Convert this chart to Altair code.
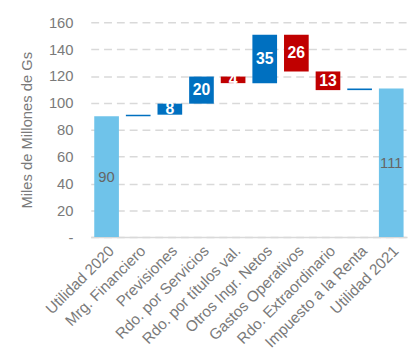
import altair as alt
import pandas as pd

categories = ["Utilidad 2020", "Mrg. Financiero", "Previsiones", "Rdo. por Servicios",
              "Rdo. por títulos val.", "Otros Ingr. Netos", "Gastos Operativos",
              "Rdo. Extraordinario", "Impuesto a la Renta", "Utilidad 2021"]
kinds = ["total", "step", "step", "step", "step", "step", "step", "step", "step", "total"]
values = [90, 1.2, 8.2, 20.2, -4.9, 36.0, -27.3, -13.9, 1.2, 110.7]
labels = ["90", "", "8", "20", "4", "35", "26", "13", "", "111"]
yticks = [0, 20, 40, 60, 80, 100, 120, 140, 160]

rows = []
run = 0.0
for cat, kind, v, lab in zip(categories, kinds, values, labels):
    if kind == "total":
        start, end = 0.0, v
        run = v
        typ = "total"
    else:
        start, end = run, run + v
        run = end
        typ = "up" if v >= 0 else "down"
    rows.append({"cat": cat, "start": start, "end": end, "mid": (start + end) / 2,
                 "type": typ, "label": lab})
df = pd.DataFrame(rows)

FONT = "Liberation Sans"
GRAY = "#7a7a7a"

xaxis = alt.Axis(labelAngle=-45, labelAlign="right", labelBaseline="top",
                 labelFont=FONT, labelFontSize=15.5, labelColor=GRAY,
                 ticks=False, domain=True, domainColor="#d9d9d9", domainWidth=1.5,
                 labelPadding=6, grid=False, labelOverlap=False)
xscale = alt.Scale(paddingInner=0.22, paddingOuter=0.11)
yaxis = alt.Axis(values=yticks, labelOverlap=False,
                 labelExpr="datum.value == 0 ? '-' : datum.label",
                 labelFont=FONT, labelFontSize=15, labelColor=GRAY,
                 titleFont=FONT, titleFontSize=15, titleColor=GRAY,
                 titleFontWeight="normal", titlePadding=14,
                 ticks=False, domain=False, labelPadding=18,
                 gridColor="#d9d9d9", gridDash=[8, 5], gridWidth=1.5)
yscale = alt.Scale(domain=[0, 160], nice=False)
YTITLE = "Miles de Millones de Gs"


def X():
    return alt.X("cat:N", sort=categories, title=None, scale=xscale, axis=xaxis)


bars = alt.Chart(df).mark_bar().encode(
    x=X(),
    y=alt.Y("start:Q", scale=yscale, title=YTITLE, axis=yaxis),
    y2="end:Q",
    color=alt.Color("type:N", legend=None,
                    scale=alt.Scale(domain=["total", "up", "down"],
                                    range=["#6FC3EA", "#0070C0", "#C00000"])),
)

txt = alt.Chart(df).mark_text(font=FONT, fontSize=16, fontWeight="bold", baseline="middle",
                              color="#ffffff").encode(
    x=X(),
    y=alt.Y("mid:Q", scale=yscale, title=YTITLE, axis=yaxis),
    text="label:N",
).transform_filter("datum.type != 'total'")

txt_total = alt.Chart(df).mark_text(font=FONT, fontSize=15, fontWeight="normal",
                                    baseline="middle", color="#666666").encode(
    x=X(),
    y=alt.Y("mid:Q", scale=yscale, title=YTITLE, axis=yaxis),
    text="label:N",
).transform_filter("datum.type == 'total'")

chart = alt.layer(bars, txt, txt_total).properties(
    width=321, height=218, padding={"left": 84, "top": 12, "right": 4, "bottom": 110},
    autosize=alt.AutoSizeParams(type="none"),
).configure_view(stroke=None)

chart.save("out.html", embed_options={"renderer": "svg", "actions": False})
